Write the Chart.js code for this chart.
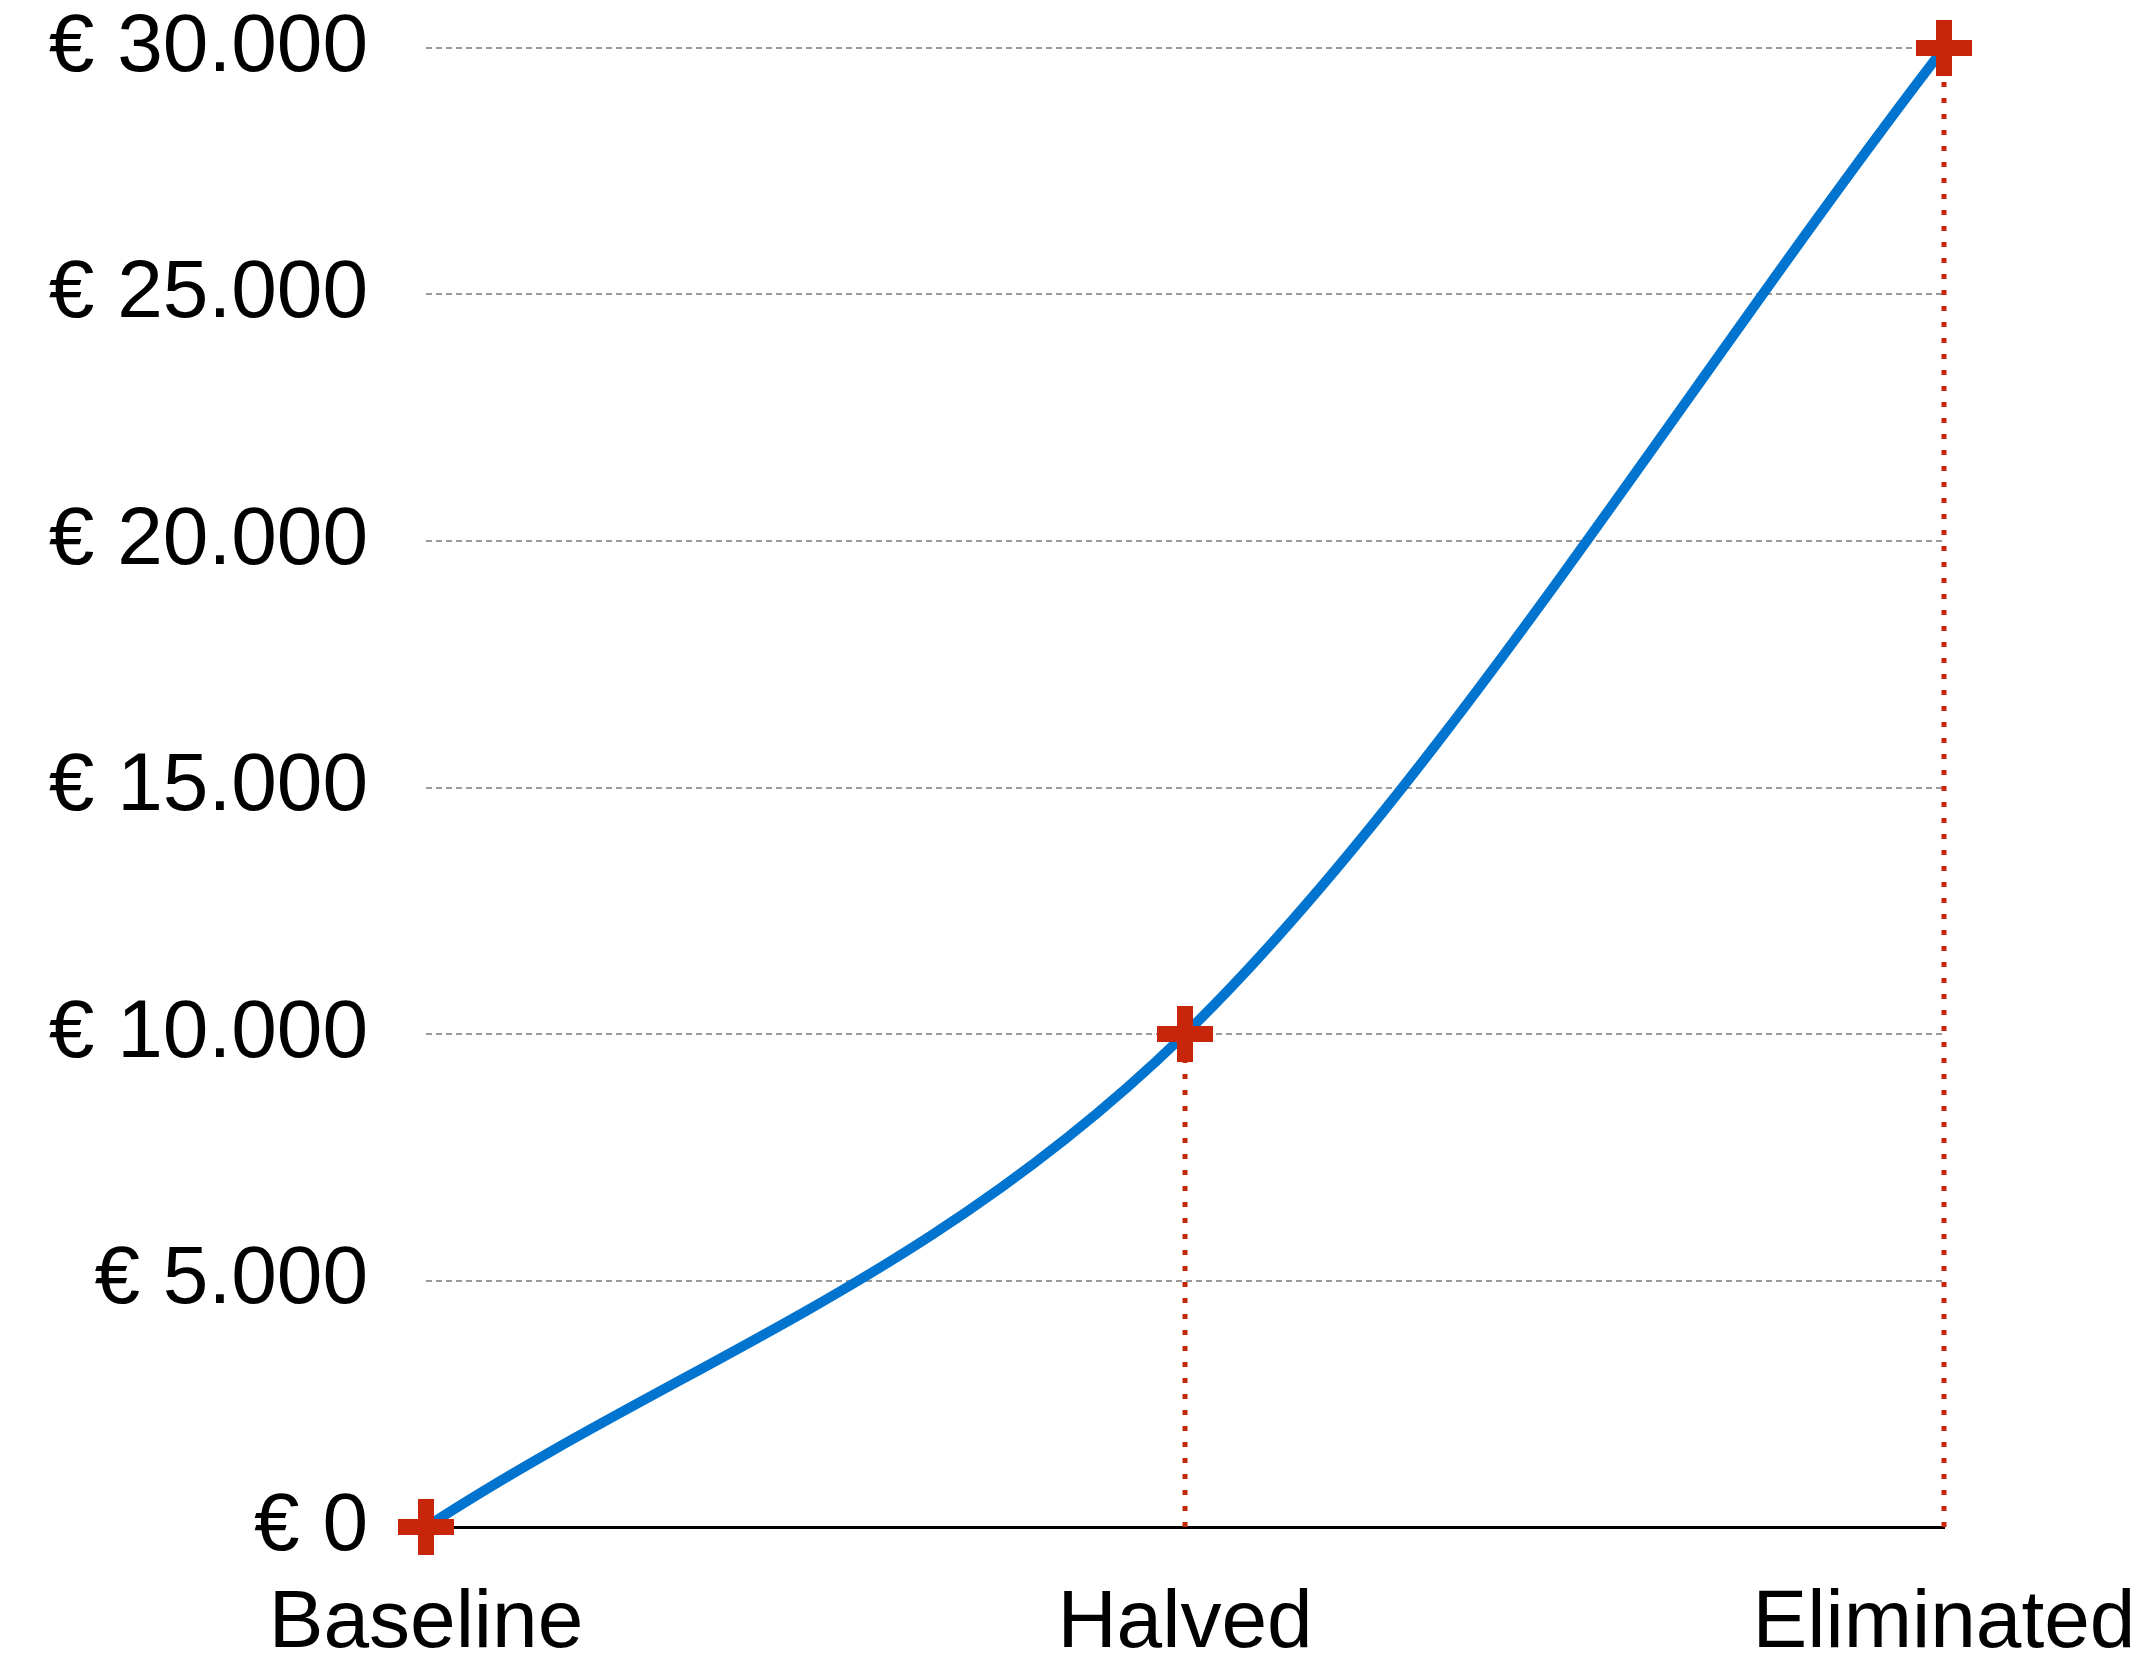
<!doctype html>
<html lang="en">
	<head>
		<meta charset="utf-8">
		<title>Cost by scenario</title>
		<script src="https://cdn.jsdelivr.net/npm/chart.js"></script>
		<style>
			html, body { margin: 0; padding: 0; background: #fff; }
			#costChart { display: block; }
		</style>
	</head>
	<body>
		<canvas id="costChart" width="2153" height="1656"></canvas>
		<script>
			// values
			var categories = ['Baseline', 'Halved', 'Eliminated'];
			var costs = [0, 10000, 30000];
			var dropLabels = ['Halved', 'Eliminated'];   // points with a dotted line down to the axis
			var yMin = 0;
			var yMax = 30000;
			var yStep = 5000;

			var red = 'rgb(200, 38, 10)';
			var blue = 'rgb(0, 116, 206)';

			// euro with dot as thousands separator
			function euro(v) {
				return '€ ' + String(v).replace(/\B(?=(\d{3})+(?!\d))/g, '.');
			}

			var datasets = [{
				label: 'Cost',
				data: costs,
				borderColor: blue,
				borderWidth: 10,
				cubicInterpolationMode: 'monotone',
				pointStyle: 'cross',
				pointRadius: 28,
				pointBorderWidth: 16,
				pointBorderColor: red,
				pointBackgroundColor: red,
				clip: false,
				order: 0
			}];

			for (const lbl of dropLabels) {
				var v = costs[categories.indexOf(lbl)];
				datasets.push({
					data: [{x: lbl, y: yMin}, {x: lbl, y: v}],
					borderColor: red,
					borderWidth: 5,
					borderDash: [5, 11],
					pointRadius: 0,
					clip: false,
					order: 1
				});
			}

			var font = "'Liberation Sans', Arial, Helvetica, sans-serif";

			new Chart(document.getElementById('costChart'), {
				type: 'line',
				data: { labels: categories, datasets: datasets },
				options: {
					responsive: false,
					animation: false,
					devicePixelRatio: 1,
					layout: { padding: { top: 48, right: 209, bottom: 0, left: 0 } },
					plugins: {
						legend: { display: false },
						tooltip: { enabled: false }
					},
					scales: {
						x: {
							offset: false,
							grid: { display: false, drawTicks: false },
							border: { display: true, color: '#000', width: 3 },
							ticks: {
								color: '#000',
								padding: 48,
								maxRotation: 0,
								font: { family: font, size: 82 }
							},
							afterFit: function(scale) {
								scale.height = 129;
								scale.paddingLeft = 0;
								scale.paddingRight = 0;
							}
						},
						y: {
							min: yMin,
							max: yMax,
							grid: {
								drawTicks: false,
								lineWidth: 2,
								color: ctx => ctx.tick && ctx.tick.value === 0 ? 'rgba(0,0,0,0)' : '#9a9a9a'
							},
							border: { display: false, dash: [6, 4] },
							ticks: {
								stepSize: yStep,
								color: '#000',
								padding: 58,
								font: { family: font, size: 82 },
								callback: value => euro(value)
							},
							afterFit: function(scale) {
								scale.width = 426;
								scale.paddingTop = 0;
								scale.paddingBottom = 0;
							}
						}
					}
				}
			});
		</script>
	</body>
</html>
